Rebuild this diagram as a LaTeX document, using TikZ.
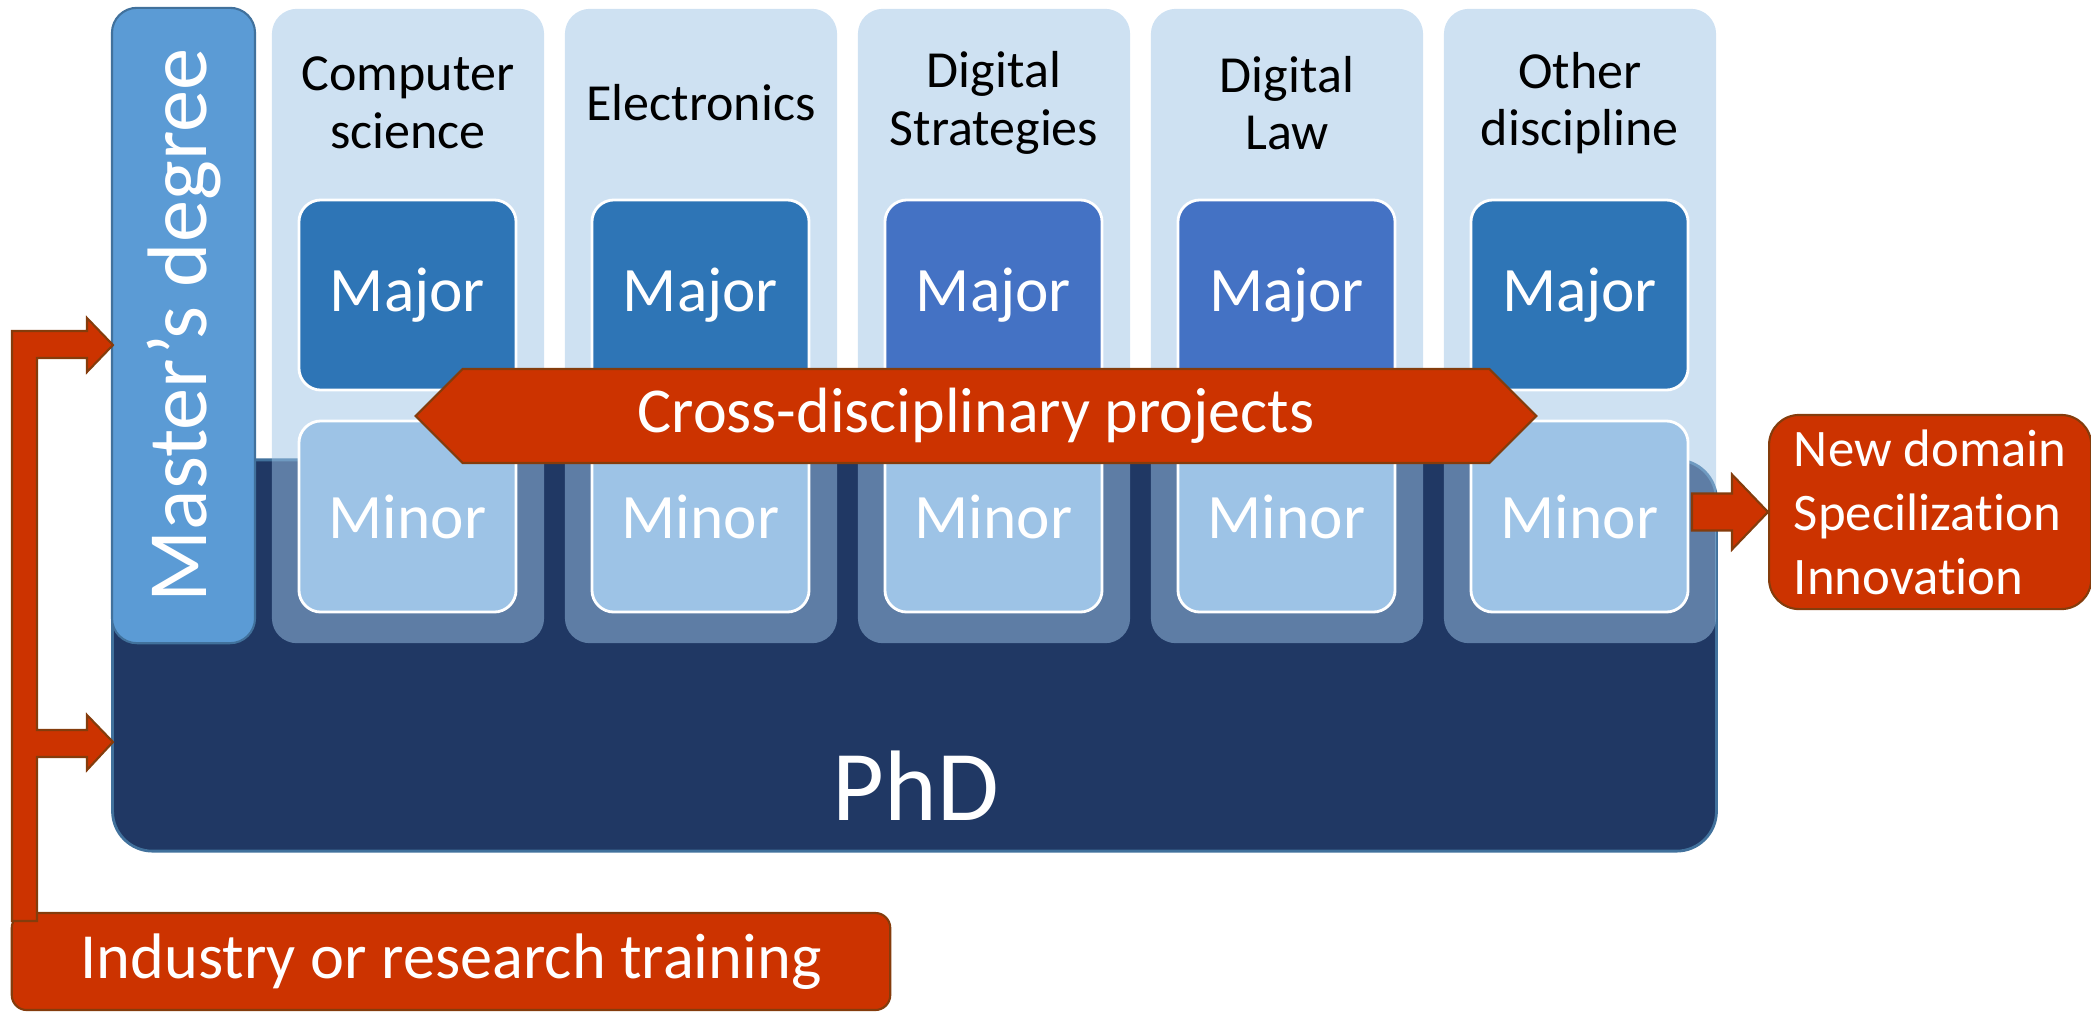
\documentclass[tikz,border=0pt]{standalone}
\usepackage{fontspec}
\setmainfont{Carlito}[Ligatures=NoCommon]
\usetikzlibrary{shapes.arrows}

\definecolor{phdnavy}{HTML}{203864}
\definecolor{edgeblue}{HTML}{41719C}
\definecolor{masterblue}{HTML}{5B9BD5}
\definecolor{majorblue}{HTML}{2E75B6}
\definecolor{majorblueb}{HTML}{4472C4}
\definecolor{minorblue}{HTML}{9DC3E6}
\definecolor{flame}{HTML}{CC3300}
\definecolor{rust}{HTML}{843C0C}

\tikzset{
	colbox/.style={fill=minorblue, fill opacity=0.5, rounded corners=0.25cm, minimum width=2.72cm, minimum height=6.34cm, inner sep=0pt},
	majorbox/.style={fill=#1, draw=white, line width=0.8pt, rounded corners=0.22cm, minimum width=2.17cm, minimum height=1.9cm, inner sep=0pt, text=white, font=\fontsize{18}{21}\selectfont},
	minorbox/.style={majorbox=minorblue, minimum height=1.91cm},
	head/.style={align=center, font=\fontsize{14.8}{16.4}\selectfont},
	redbox/.style={fill=flame, draw=rust, line width=0.6pt, text=white},
}

\begin{document}
\begin{tikzpicture}[x=0.01cm, y=-0.01cm]
	\useasboundingbox (0,0) rectangle (2091,1011);

	% PhD block
	\node[fill=phdnavy, draw=edgeblue, line width=0.8pt, rounded corners=0.4cm, minimum width=16.03cm, minimum height=3.91cm] (phd) at (914.5,655.5) {};
	\node[text=white, font=\fontsize{28.5}{33}\selectfont] (phdlabel) at (916,786) {PhD};

	% Master's degree
	\node[rotate=90, fill=masterblue, draw=edgeblue, line width=0.6pt, rounded corners=0.25cm, minimum width=6.35cm, minimum height=1.43cm, text=white, font=\fontsize{24}{28}\selectfont] (master) at (183.5,325.5) {Master’s degree};

	% Discipline columns
	\node[colbox] (col1) at (408,326) {};
	\node[colbox] (col2) at (701,326) {};
	\node[colbox] (col3) at (994,326) {};
	\node[colbox] (col4) at (1287,326) {};
	\node[colbox] (col5) at (1580,326) {};

	% Headings
	\node[head] (head1) at (408,103) {Computer\\science};
	\node[head] (head2) at (701,103) {Electronics};
	\node[head] (head3) at (994,103) {Digital\\Strategies};
	\node[head] (head4) at (1287,103) {Digital\\Law};
	\node[head] (head5) at (1580,103) {Other\\discipline};

	% Majors
	\node[majorbox=majorblue] (maj1) at (407.5,295) {Major};
	\node[majorbox=majorblue] (maj2) at (700.5,295) {Major};
	\node[majorbox=majorblueb] (maj3) at (993.5,295) {Major};
	\node[majorbox=majorblueb] (maj4) at (1286.5,295) {Major};
	\node[majorbox=majorblue] (maj5) at (1579.5,295) {Major};

	% Minors
	\node[minorbox] (min1) at (407.5,516.5) {Minor};
	\node[minorbox] (min2) at (700.5,516.5) {Minor};
	\node[minorbox] (min3) at (993.5,516.5) {Minor};
	\node[minorbox] (min4) at (1286.5,516.5) {Minor};
	\node[minorbox] (min5) at (1579.5,516.5) {Minor};

	% Cross-disciplinary projects
	\node[redbox, double arrow, double arrow head extend=0pt, minimum height=11.2cm, minimum width=0.94cm, inner sep=0pt, font=\fontsize{18.2}{21}\selectfont] (cross) at (976,416) {Cross-disciplinary projects};

	% Outcome
	\node[redbox, rounded corners=0.3cm, align=left, anchor=west, minimum width=3.22cm, minimum height=1.94cm, inner ysep=1pt, font=\fontsize{15}{18.2}\selectfont] (result) at (1768,512) {New domain\\Specilization\\Innovation};
	\draw[redbox] (result.west) -- ++(-36,-37.5) -- ++(0,19) -- ++(-40,0) -- ++(0,37) -- ++(40,0) -- ++(0,19) -- cycle;

	% Industry or research training
	\node[redbox, rounded corners=0.15cm, minimum width=8.78cm, minimum height=0.97cm, font=\fontsize{18.3}{21}\selectfont] (train) at (451,961.5) {Industry or research training};

	% Entry arrows
	\coordinate (mastertip) at (113,345);
	\coordinate (phdtip) at (113,742);
	\draw[redbox] (mastertip) -- ++(-26,-27) -- ++(0,13) -- ++(-75,0) -- ++(0,590) -- ++(25,0) -- ++(0,-164) -- ++(50,0) -- ++(0,13) -- (phdtip) -- ++(-26,-27) -- ++(0,15) -- ++(-50,0) -- ++(0,-372) -- ++(50,0) -- ++(0,14) -- cycle;
\end{tikzpicture}
\end{document}
